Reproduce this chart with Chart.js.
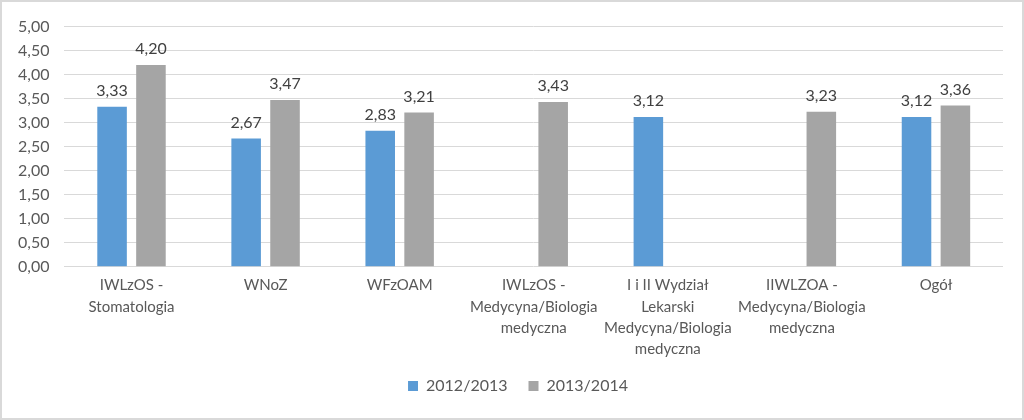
<!DOCTYPE html>
<html>
<head>
<meta charset="utf-8">
<script src="https://cdn.jsdelivr.net/npm/chart.js@4"></script>
<style>
  html, body { margin: 0; padding: 0; background: #fff; }
  #wrap { width: 1024px; height: 420px; box-sizing: border-box; border: 2px solid #d9d9d9; }
</style>
</head>
<body>
<div id="wrap"><canvas id="myChart" width="1020" height="416"></canvas></div>
<script>
// kategorie
var categories = [
    ['IWLzOS -', 'Stomatologia'],
    'WNoZ',
    'WFzOAM',
    ['IWLzOS -', 'Medycyna/Biologia', 'medyczna'],
    ['I i II Wydział', 'Lekarski', 'Medycyna/Biologia', 'medyczna'],
    ['IIWLZOA -', 'Medycyna/Biologia', 'medyczna'],
    'Ogół'
];
var seriesNames = ['2012/2013', '2013/2014'];
var values2012 = [3.33, 2.67, 2.83, null, 3.12, null, 3.12];
var values2013 = [4.20, 3.47, 3.21, 3.43, null, 3.23, 3.36];
var yTicks = [0, 0.5, 1, 1.5, 2, 2.5, 3, 3.5, 4, 4.5, 5];

function fmt(v){
    return v.toFixed(2).replace('.', ',');
}

// etykiety nad słupkami
var valueLabels = {
    id: 'valueLabels',
    afterDatasetsDraw: function(chart){
        var ctx = chart.ctx;
        ctx.save();
        ctx.font = '16px Lato';
        ctx.fillStyle = '#404040';
        ctx.textAlign = 'center';
        ctx.textBaseline = 'bottom';
        chart.data.datasets.forEach(function(ds, i){
            var meta = chart.getDatasetMeta(i);
            meta.data.forEach(function(bar, j){
                if (ds.data[j] == null) return;
                ctx.fillText(fmt(ds.data[j]), bar.x, bar.y - 8);
            });
        });
        ctx.restore();
    }
};

// legenda troche w prawo i w gore, jak w oryginale
var legendShift = {
    id: 'legendShift',
    afterLayout: function(chart){
        chart.legend.left += 15;
        chart.legend.right += 15;
        chart.legend.top -= 3;
        chart.legend.bottom -= 3;
    }
};

Chart.defaults.font.family = 'Lato';
Chart.defaults.color = '#595959';

var ctx = document.getElementById('myChart');
var myChart = new Chart(ctx, {
    type: 'bar',
    data: {
        labels: categories,
        datasets: [{
            label: seriesNames[0],
            data: values2012,
            backgroundColor: '#5b9bd5',
            barPercentage: 0.76,
            categoryPercentage: 0.58
        }, {
            label: seriesNames[1],
            data: values2013,
            backgroundColor: '#a5a5a5',
            barPercentage: 0.76,
            categoryPercentage: 0.58
        }]
    },
    options: {
        responsive: false,
        animation: false,
        layout: { padding: { top: 7, left: 1, right: 19, bottom: 11 } },
        scales: {
            x: {
                grid: { display: false },
                border: { display: false },
                ticks: { font: { size: 15, lineHeight: 1.42 }, maxRotation: 0, autoSkip: false, padding: 0 }
            },
            y: {
                min: 0,
                max: 5,
                afterBuildTicks: function(axis){
                    axis.ticks = yTicks.map(function(v){ return { value: v }; });
                },
                grid: { color: '#d9d9d9', drawTicks: false },
                border: { display: false },
                ticks: {
                    font: { size: 16 },
                    padding: 15,
                    callback: function(v){ return fmt(v); }
                }
            }
        },
        plugins: {
            legend: {
                position: 'bottom',
                labels: { boxWidth: 10, boxHeight: 10, font: { size: 16 }, padding: 21 }
            },
            tooltip: { enabled: false }
        }
    },
    plugins: [valueLabels, legendShift]
});
</script>
</body>
</html>
